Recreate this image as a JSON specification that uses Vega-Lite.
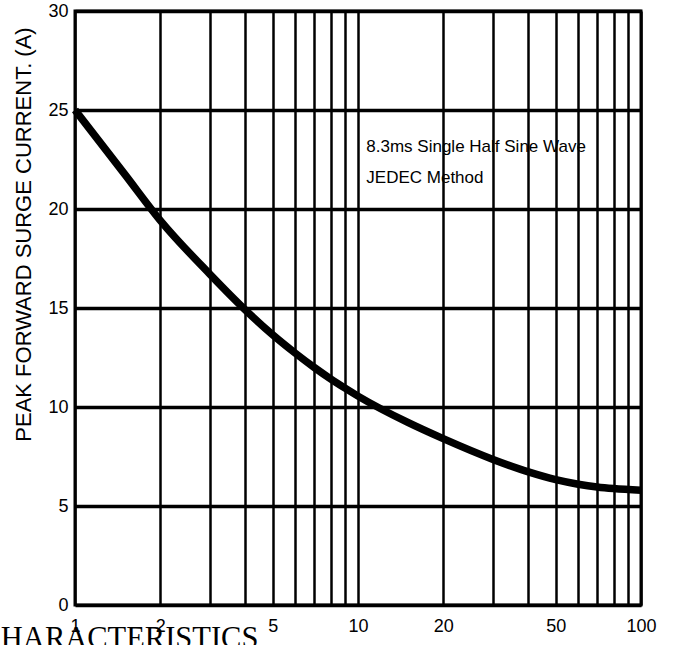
{
  "$schema": "https://vega.github.io/schema/vega-lite/v6.json",
  "width": 566,
  "height": 594,
  "autosize": {"type": "none"},
  "padding": {"left": 75, "top": 11, "right": 32, "bottom": 40},
  "background": "white",
  "config": {
    "view": {"stroke": "black", "strokeWidth": 3}
  },
  "encoding": {
    "x": {
      "field": "time",
      "type": "quantitative",
      "scale": {"type": "log", "domain": [1, 100]},
      "axis": {
        "values": [1, 2, 3, 4, 5, 6, 7, 8, 9, 10, 20, 30, 40, 50, 60, 70, 80, 90, 100],
        "labelExpr": "indexof([1,2,5,10,20,50,100], datum.value) >= 0 ? datum.value + '' : ''",
        "grid": true,
        "gridColor": "black",
        "gridWidth": 2.5,
        "gridOpacity": 1,
        "ticks": false,
        "domain": false,
        "labelFont": "Liberation Sans",
        "labelFontSize": 18,
        "labelColor": "black",
        "labelPadding": 12,
        "labelFlush": false,
        "labelOverlap": false,
        "labelBound": false,
        "title": "CHARACTERISTICS",
        "titleFont": "Liberation Serif",
        "titleFontSize": 30.5,
        "titleFontWeight": "normal",
        "titleColor": "black",
        "titleAlign": "left",
        "titleBaseline": "alphabetic",
        "titleAnchor": "start",
        "titleX": -95,
        "titleY": 42
      }
    },
    "y": {
      "field": "current",
      "type": "quantitative",
      "scale": {"domain": [0, 30]},
      "axis": {
        "values": [0, 5, 10, 15, 20, 25, 30],
        "grid": true,
        "gridColor": "black",
        "gridWidth": 3.5,
        "gridOpacity": 1,
        "ticks": false,
        "domain": false,
        "labelFont": "Liberation Sans",
        "labelFontSize": 18,
        "labelColor": "black",
        "labelPadding": 7,
        "labelFlush": false,
        "labelOverlap": false,
        "labelBound": false,
        "title": "PEAK FORWARD SURGE CURRENT. (A)",
        "titleFont": "Liberation Sans",
        "titleFontSize": 22,
        "titleFontWeight": "normal",
        "titleColor": "black",
        "titleAngle": 270,
        "titleAlign": "center",
        "titleBaseline": "middle",
        "titleX": -52,
        "titleY": 223
      }
    }
  },
  "layer": [
    {
      "data": {
        "values": [
          {"time": 1, "current": 25},
          {"time": 1.5, "current": 21.75},
          {"time": 2, "current": 19.43},
          {"time": 3, "current": 16.7},
          {"time": 4, "current": 14.9},
          {"time": 5, "current": 13.64},
          {"time": 6, "current": 12.72},
          {"time": 7, "current": 12.0},
          {"time": 8, "current": 11.42},
          {"time": 9, "current": 10.95},
          {"time": 10, "current": 10.55},
          {"time": 15, "current": 9.22},
          {"time": 20, "current": 8.4},
          {"time": 30, "current": 7.35},
          {"time": 40, "current": 6.72},
          {"time": 50, "current": 6.33},
          {"time": 60, "current": 6.1},
          {"time": 70, "current": 5.96},
          {"time": 80, "current": 5.88},
          {"time": 100, "current": 5.8}
        ]
      },
      "mark": {"type": "line", "color": "black", "strokeWidth": 7.5, "interpolate": "monotone"}
    },
    {
      "data": {
        "values": [
          {"time": 10.7, "current": 22.9, "label": "8.3ms Single Half Sine Wave"},
          {"time": 10.7, "current": 21.3, "label": "JEDEC Method"}
        ]
      },
      "mark": {
        "type": "text",
        "align": "left",
        "baseline": "alphabetic",
        "font": "Liberation Sans",
        "fontSize": 17,
        "color": "black"
      },
      "encoding": {"text": {"field": "label"}}
    }
  ]
}
